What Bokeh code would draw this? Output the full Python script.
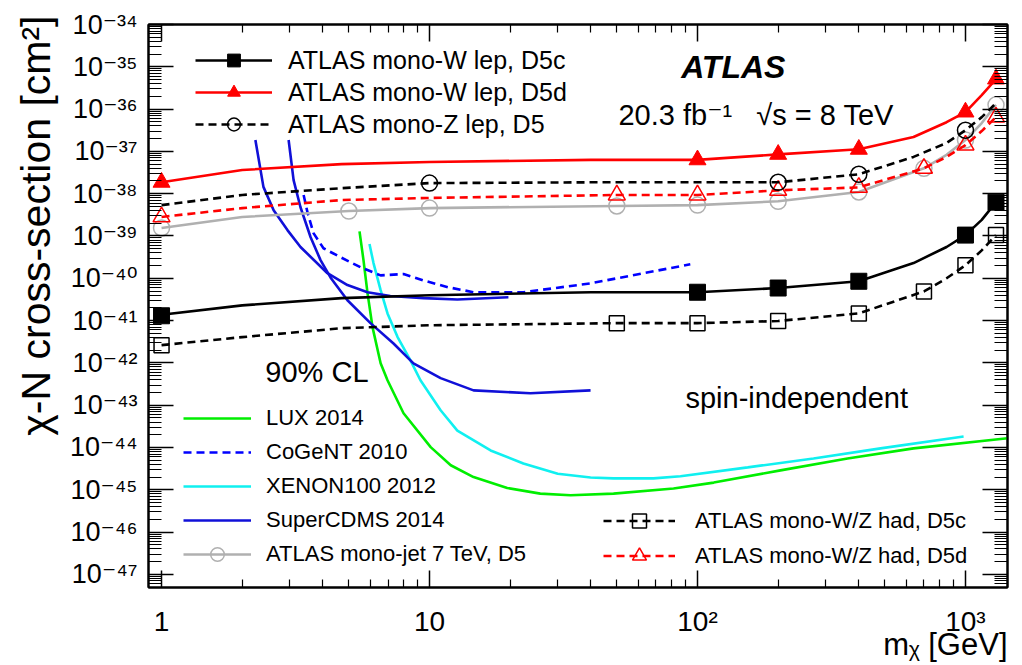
from bokeh.plotting import figure
from bokeh.models import FixedTicker, LogAxis, Legend, LegendItem, Label, Range1d, Title
from bokeh.embed import file_html
from bokeh.resources import INLINE

# ---------------- data ----------------
# ATLAS mono-W lep, D5c (solid black, filled squares)
wlep_c_x = [1, 2, 4.7, 10, 40, 100, 200, 400, 640, 850, 1000, 1150, 1300]
wlep_c_y = [1.38e-41, 2.29e-41, 3.39e-41, 3.98e-41, 4.68e-41, 4.68e-41, 5.89e-41, 8.51e-41,
            2.29e-40, 5.50e-40, 1.05e-39, 2.40e-39, 6.31e-39]
wlep_c_mx = [1, 100, 200, 400, 1000, 1300]
wlep_c_my = [1.3e-41, 4.68e-41, 5.89e-41, 8.51e-41, 1.05e-39, 6.31e-39]

# ATLAS mono-W lep, D5d (solid red, filled triangles)
wlep_d_x = [1, 2, 4.7, 10, 40, 100, 200, 400, 640, 850, 1000, 1150, 1300]
wlep_d_y = [1.86e-38, 3.63e-38, 5.01e-38, 5.62e-38, 6.31e-38, 6.31e-38, 8.51e-38, 1.12e-37,
            2.19e-37, 4.90e-37, 8.51e-37, 2.14e-36, 5.13e-36]
wlep_d_mx = [1, 100, 200, 400, 1000, 1300]
wlep_d_my = [1.86e-38, 6.31e-38, 8.51e-38, 1.12e-37, 8.51e-37, 5.13e-36]

# ATLAS mono-Z lep, D5 (dashed black, open circles)
zlep_x = [1, 2, 4.7, 10, 40, 200, 400, 640, 850, 1000, 1150, 1300]
zlep_y = [5.37e-39, 9.33e-39, 1.35e-38, 1.78e-38, 1.86e-38, 1.86e-38, 2.88e-38, 7.41e-38,
          1.58e-37, 3.16e-37, 6.46e-37, 1.38e-36]
zlep_mx = [10, 200, 400, 1000]
zlep_my = [1.78e-38, 1.86e-38, 2.88e-38, 3.16e-37]

# ATLAS mono-W/Z had, D5c (dashed black, open squares)
had_c_x = [1, 2, 4.7, 10, 50, 100, 200, 400, 700, 850, 1000, 1150, 1300]
had_c_y = [2.63e-42, 4.07e-42, 6.61e-42, 7.76e-42, 8.71e-42, 8.71e-42, 9.77e-42, 1.48e-41,
           4.90e-41, 1.0e-40, 2.04e-40, 4.57e-40, 1.05e-39]
had_c_mx = [1, 50, 100, 200, 400, 700, 1000, 1300]
had_c_my = [2.63e-42, 8.71e-42, 8.71e-42, 9.77e-42, 1.48e-41, 4.90e-41, 2.04e-40, 1.05e-39]

# ATLAS mono-W/Z had, D5d (dashed red, open triangles)
had_d_x = [1, 2, 4.7, 10, 50, 100, 200, 400, 700, 850, 1000, 1150, 1300]
had_d_y = [2.82e-39, 4.57e-39, 7.08e-39, 7.94e-39, 9.33e-39, 9.33e-39, 1.20e-38, 1.41e-38,
           3.98e-38, 7.41e-38, 1.41e-37, 3.02e-37, 6.46e-37]
had_d_mx = [1, 50, 100, 200, 400, 700, 1000, 1300]
had_d_my = [2.82e-39, 9.33e-39, 9.33e-39, 1.20e-38, 1.41e-38, 3.98e-38, 1.41e-37, 6.46e-37]

# ATLAS mono-jet 7 TeV, D5 (solid grey, open circles)
mj_x = [1, 2, 5, 10, 50, 100, 200, 400, 700, 850, 1000, 1150, 1300]
mj_y = [1.55e-39, 2.82e-39, 3.89e-39, 4.57e-39, 5.13e-39, 5.37e-39, 6.61e-39, 1.10e-38,
        3.98e-38, 8.32e-38, 1.86e-37, 4.68e-37, 1.26e-36]
mj_mx = [1, 5, 10, 50, 100, 200, 400, 700, 1000, 1300]
mj_my = [1.55e-39, 3.89e-39, 4.57e-39, 5.13e-39, 5.37e-39, 6.61e-39, 1.10e-38, 3.98e-38,
         1.86e-37, 1.26e-36]

# SuperCDMS 2014 (two solid dark-blue curves)
scdms_a_x = [2.24, 2.40, 2.62, 2.95, 3.30, 4.16, 4.94, 5.87, 7.14, 9.5, 12.7, 19.7]
scdms_a_y = [1.86e-37, 1.45e-38, 4.07e-39, 1.38e-39, 5.50e-40, 1.32e-40, 6.92e-41, 4.68e-41,
             3.80e-41, 3.39e-41, 3.16e-41, 3.55e-41]
scdms_b_x = [2.98, 3.11, 3.30, 3.60, 3.92, 4.27, 4.94, 6.02, 7.34, 8.71, 11.0, 14.6, 23.8, 39.9]
scdms_b_y = [1.86e-37, 2.09e-38, 4.79e-39, 9.33e-40, 2.69e-40, 1.05e-40, 3.02e-41, 8.71e-42,
             2.88e-42, 9.77e-43, 4.37e-43, 2.24e-43, 1.91e-43, 2.24e-43]

# CoGeNT 2010 (dashed blue)
cogent_x = [3.39, 3.51, 3.69, 4.02, 4.65, 5.53, 6.57, 8.0, 9.5, 11.7, 14.6, 22.4, 39.9, 94]
cogent_y = [9.33e-39, 3.47e-39, 1.17e-39, 5.13e-40, 3.16e-40, 1.82e-40, 1.17e-40, 1.26e-40,
            8.91e-41, 6.17e-41, 4.68e-41, 4.68e-41, 7.59e-41, 2.14e-40]

# LUX 2014 (green)
lux_x = [5.48, 5.67, 5.87, 6.13, 6.57, 6.97, 8.0, 10.1, 12.0, 14.6, 19.5, 25.9, 33.6, 48.6,
         81.4, 115, 204, 363, 640, 1435]
lux_y = [1.29e-39, 2.69e-40, 4.47e-41, 6.92e-42, 9.77e-43, 3.89e-43, 6.46e-44, 1.02e-44,
         3.80e-45, 2.00e-45, 1.10e-45, 8.13e-46, 7.41e-46, 8.13e-46, 1.07e-45, 1.48e-45,
         2.88e-45, 5.50e-45, 9.55e-45, 1.66e-44]

# XENON100 2012 (cyan)
xenon_x = [5.97, 6.18, 6.57, 6.97, 7.60, 8.49, 9.25, 11.0, 12.7, 16.9, 22.4, 30.1, 39.9, 48.6,
           68.5, 86.4, 154, 271, 482, 984]
xenon_y = [6.46e-40, 2.29e-40, 5.25e-41, 1.48e-41, 4.07e-42, 1.15e-42, 3.89e-43, 7.59e-44,
           2.51e-44, 8.51e-45, 4.17e-45, 2.40e-45, 1.95e-45, 1.86e-45, 1.86e-45, 2.09e-45,
           3.39e-45, 5.50e-45, 9.55e-45, 1.82e-44]

# axis ticks and labels
x_major = [1, 10, 100, 1000]
x_labels = ["1", "10", "10²", "10³"]
y_major = [1e-47, 1e-46, 1e-45, 1e-44, 1e-43, 1e-42, 1e-41, 1e-40, 1e-39, 1e-38, 1e-37,
           1e-36, 1e-35, 1e-34]
y_labels = ["10⁻⁴⁷", "10⁻⁴⁶", "10⁻⁴⁵", "10⁻⁴⁴", "10⁻⁴³", "10⁻⁴²", "10⁻⁴¹", "10⁻⁴⁰",
            "10⁻³⁹", "10⁻³⁸", "10⁻³⁷", "10⁻³⁶", "10⁻³⁵", "10⁻³⁴"]

# ---------------- figure ----------------
FONT = "Liberation Sans, DejaVu Sans"

p = figure(width=1020, height=665, x_axis_type="log", y_axis_type="log",
           x_range=Range1d(0.894, 1435), y_range=Range1d(4.9e-48, 1e-34),
           output_backend="svg", toolbar_location=None,
           min_border_left=148, min_border_right=13, min_border_top=24, min_border_bottom=78)
p.outline_line_color = "black"
p.outline_line_width = 2
p.grid.visible = False
p.background_fill_color = "white"
p.border_fill_color = "white"

x_minor = [m * 10 ** e for e in range(0, 4) for m in range(2, 10)]
y_minor = [m * 10.0 ** e for e in range(-48, -34) for m in range(2, 10)]
xt = FixedTicker(ticks=x_major, minor_ticks=x_minor)
yt = FixedTicker(ticks=y_major, minor_ticks=y_minor)


def style(ax, ticker, major, minor):
    ax.ticker = ticker
    ax.major_tick_in = major
    ax.major_tick_out = 0
    ax.minor_tick_in = minor
    ax.minor_tick_out = 0
    ax.axis_line_width = 2
    ax.major_tick_line_width = 1.5
    ax.minor_tick_line_width = 1.2
    ax.major_label_text_font = FONT
    ax.major_label_text_color = "black"


style(p.xaxis[0], xt, 17, 8)
p.xaxis[0].major_label_overrides = dict(zip(x_major, x_labels))
p.xaxis[0].major_label_text_font_size = "28px"
p.xaxis[0].major_label_standoff = 18

style(p.yaxis[0], yt, 25, 13)
p.yaxis[0].major_label_overrides = dict(zip(y_major, y_labels))
p.yaxis[0].major_label_text_font_size = "27px"
p.yaxis[0].major_label_standoff = 11

top = LogAxis()
style(top, xt, 17, 8)
top.major_label_overrides = {v: "" for v in x_major}
top.major_label_text_font_size = "8px"
top.major_label_standoff = 0
p.add_layout(top, "above")
right = LogAxis()
style(right, yt, 25, 13)
right.major_label_overrides = {v: "" for v in y_major}
right.major_label_text_font_size = "8px"
right.major_label_standoff = 0
p.add_layout(right, "right")

# axis titles (ROOT style: aligned to the top / right end of the axes)
p.add_layout(Title(text="χ-N cross-section [cm²]", align="right", text_font=FONT,
                   text_font_size="41px", text_font_style="normal", text_color="black",
                   offset=-9, standoff=18), "left")
p.add_layout(Title(text="mᵪ [GeV]", align="right", text_font=FONT,
                   text_font_size="31px", text_font_style="normal", text_color="black",
                   offset=0, standoff=-30), "below")

# ---------------- direct detection curves ----------------
LW = 2.6
r_lux = p.line(lux_x, lux_y, line_color="#00ee00", line_width=LW)
r_xen = p.line(xenon_x, xenon_y, line_color="#10f0f0", line_width=LW)
r_cog = p.line(cogent_x, cogent_y, line_color="#0000ff", line_width=LW, line_dash="8 5")
r_cdA = p.line(scdms_a_x, scdms_a_y, line_color="#1010d8", line_width=LW)
r_cdB = p.line(scdms_b_x, scdms_b_y, line_color="#1010d8", line_width=LW)

# ---------------- ATLAS curves ----------------
r_mj_l = p.line(mj_x, mj_y, line_color="#b0b0b0", line_width=LW)
r_mj_m = p.scatter(mj_mx, mj_my, marker="circle", size=16, line_color="#b0b0b0",
                   line_width=1.5, fill_alpha=0)
r_hc_l = p.line(had_c_x, had_c_y, line_color="black", line_width=LW, line_dash="8 5")
r_hc_m = p.scatter(had_c_mx, had_c_my, marker="square", size=15, line_color="black",
                   line_width=1.5, fill_alpha=0)
r_hd_l = p.line(had_d_x, had_d_y, line_color="#ff0000", line_width=LW, line_dash="8 5")
r_hd_m = p.scatter(had_d_mx, had_d_my, marker="triangle", size=17, line_color="#ff0000",
                   line_width=1.5, fill_alpha=0)
r_zl_l = p.line(zlep_x, zlep_y, line_color="black", line_width=LW, line_dash="8 5")
r_zl_m = p.scatter(zlep_mx, zlep_my, marker="circle", size=16, line_color="black",
                   line_width=1.5, fill_alpha=0)
r_wc_l = p.line(wlep_c_x, wlep_c_y, line_color="black", line_width=LW)
r_wc_m = p.scatter(wlep_c_mx, wlep_c_my, marker="square", size=16, line_color="black",
                   fill_color="black")
r_wd_l = p.line(wlep_d_x, wlep_d_y, line_color="#ff0000", line_width=LW)
r_wd_m = p.scatter(wlep_d_mx, wlep_d_my, marker="triangle", size=17, line_color="#ff0000",
                   fill_color="#ff0000")

# ---------------- legends ----------------
def make_legend(items, loc, gh, gw, standoff, fs):
    lg = Legend(items=items, location=loc, glyph_height=gh, glyph_width=gw,
                label_height=gh, label_standoff=standoff, spacing=0, padding=0, margin=0,
                label_text_font=FONT, label_text_font_size=fs, label_text_color="black",
                border_line_alpha=0, background_fill_alpha=0)
    p.add_layout(lg, "center")


make_legend([
    LegendItem(label="ATLAS mono-W lep, D5c", renderers=[r_wc_l, r_wc_m]),
    LegendItem(label="ATLAS mono-W lep, D5d", renderers=[r_wd_l, r_wd_m]),
    LegendItem(label="ATLAS mono-Z lep, D5", renderers=[r_zl_l, r_zl_m]),
], (47, 447), 32, 77, 16, "25px")

make_legend([
    LegendItem(label="LUX 2014", renderers=[r_lux]),
    LegendItem(label="CoGeNT 2010", renderers=[r_cog]),
    LegendItem(label="XENON100 2012", renderers=[r_xen]),
    LegendItem(label="SuperCDMS 2014", renderers=[r_cdA]),
    LegendItem(label="ATLAS mono-jet 7 TeV, D5", renderers=[r_mj_l, r_mj_m]),
], (35, 16), 34, 68, 15, "22px")

make_legend([
    LegendItem(label="ATLAS mono-W/Z had, D5c", renderers=[r_hc_l, r_hc_m]),
    LegendItem(label="ATLAS mono-W/Z had, D5d", renderers=[r_hd_l, r_hd_m]),
], (455, 14), 35, 72, 20, "22px")

# ---------------- texts ----------------
def lab(**kw):
    kw.setdefault("text_font", FONT)
    kw.setdefault("text_color", "black")
    p.add_layout(Label(**kw))


lab(x=136, y=1e-35, text="ATLAS", text_font_size="32px", text_font_style="bold italic",
    text_align="center", text_baseline="middle")
lab(x=50.7, y=7.24e-37, text="20.3 fb⁻¹\u00a0\u00a0\u00a0√s = 8 TeV", text_font_size="29px",
    text_align="left", text_baseline="middle")
lab(x=2.44, y=6.03e-43, text="90% CL", text_font_size="29px",
    text_align="left", text_baseline="middle")
lab(x=90.2, y=1.45e-43, text="spin-independent", text_font_size="29px",
    text_align="left", text_baseline="middle")

open("out.html", "w").write(file_html(p, INLINE))
